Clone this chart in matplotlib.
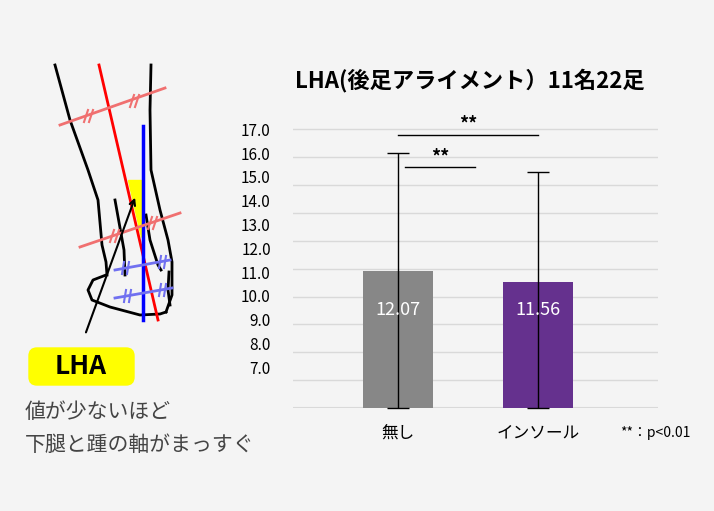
import matplotlib
matplotlib.use("Agg")
import matplotlib.pyplot as plt
from matplotlib.patches import FancyBboxPatch, Polygon

plt.rcParams["font.family"] = ["Noto Sans CJK JP"]

categories = ["無し", "インソール"]
means = [11.05, 10.6]
err_top = [16.0, 15.2]
value_labels = ["12.07", "11.56"]
tick_labels = [17.0, 16.0, 15.0, 14.0, 13.0, 12.0, 11.0, 10.0, 9.0, 8.0, 7.0]
colors = ["#878787", "#65318e"]
BG = "#f4f4f4"

W, H = 714, 511
fig = plt.figure(figsize=(W/100, H/100), dpi=100, facecolor=BG)

def fx(x): return x / W
def fy(y): return 1 - y / H

ax = fig.add_axes([fx(293), fy(408), fx(658-293), (408-128)/H], facecolor=BG)
ymin, ymax = 5.29, 17.05
ax.set_ylim(ymin, ymax)
ax.set_xlim(-0.75, 1.857)
x = [0, 1]
lower = [m - ymin for m in means]
upper = [t - m for t, m in zip(err_top, means)]
ax.bar(x, means, width=0.5, color=colors, zorder=2, bottom=0)
ax.errorbar(x, means, yerr=[lower, upper], fmt="none", ecolor="black",
            elinewidth=1, capsize=8, capthick=1, zorder=3, clip_on=False)
for xi, lab in zip(x, value_labels):
    ax.text(xi, 9.4, lab, ha="center", va="center", color="white", fontsize=13, zorder=4)
step = 1.1715
for k in range(11):
    ax.axhline(17.0 - k*step, color="#d9d9d9", lw=1, zorder=1)
ax.set_yticks(tick_labels)
ax.set_yticklabels([f"{t:.1f}" for t in tick_labels], fontsize=11)
ax.tick_params(axis="y", length=0, pad=16)
ax.set_xticks([])
for s in ax.spines.values():
    s.set_visible(False)
ax.axhline(ymin, color="#d9d9d9", lw=1.5, zorder=1)

ax.plot([0, 1], [16.75, 16.75], color="black", lw=1, clip_on=False)
ax.text(0.5, 16.8, "**", ha="center", va="bottom", fontsize=13, fontweight="bold")
ax.plot([0.05, 0.55], [15.4, 15.4], color="black", lw=1, clip_on=False)
ax.text(0.3, 15.45, "**", ha="center", va="bottom", fontsize=13, fontweight="bold")

for xi, c in zip([398, 538], categories):
    fig.text(fx(xi), fy(433), c, ha="center", va="center", fontsize=12)
fig.text(fx(655), fy(433), "**：p<0.01", ha="center", va="center", fontsize=10)
fig.text(fx(470), fy(80), "LHA(後足アライメント）11名22足", ha="center", va="center",
         fontsize=16, fontweight="bold")

d = fig.add_axes([0, 0, 1, 1], facecolor="none")
d.set_xlim(0, W); d.set_ylim(H, 0); d.axis("off")
d.plot([55, 70, 88, 98, 102, 106, 107], [65, 120, 170, 200, 245, 262, 275], color="black", lw=2)
d.plot([151, 150, 151, 160, 168, 172, 172, 166], [65, 110, 170, 210, 240, 262, 295, 312], color="black", lw=2)
d.plot([106, 93, 88, 92, 110, 140, 160, 166], [275, 280, 290, 300, 307, 315, 314, 312], color="black", lw=2)
d.plot([115, 124, 125], [200, 250, 275], color="black", lw=2)
d.plot([146, 150, 158, 161], [215, 240, 265, 270], color="black", lw=2)
d.plot([169, 168, 170], [272, 290, 305], color="black", lw=2)
d.add_patch(Polygon([[128, 180], [141, 180], [141, 237]], color="yellow", zorder=1))
d.plot([99, 158], [65, 320], color="red", lw=2)
d.plot([143, 143], [126, 320], color="blue", lw=2.5)
d.plot([60, 165], [125, 88], color="#f07070", lw=2)
d.plot([80, 180], [247, 213], color="#f07070", lw=2)
for (a, b) in [(86, 116), (132, 101), (112, 236), (150, 223)]:
    for o in (0, 5):
        d.plot([a+o-2, a+o+2], [b+6, b-6], color="#f07070", lw=1.5)
d.plot([115, 170], [270, 260], color="#7070f0", lw=2)
d.plot([115, 172], [298, 288], color="#7070f0", lw=2)
for (a, b) in [(123, 268), (160, 262), (125, 296), (160, 290)]:
    for o in (0, 5):
        d.plot([a+o-1, a+o+1], [b+6, b-6], color="#7070f0", lw=1.5)
d.annotate("", xy=(136, 195), xytext=(85, 335),
           arrowprops=dict(arrowstyle="->", color="black", lw=1.5))
d.add_patch(FancyBboxPatch((29, 348), 105, 37, boxstyle="round,pad=0,rounding_size=8",
                           color="#ffff00"))
d.text(81, 367, "LHA", ha="center", va="center", fontsize=19, fontweight="bold")
d.text(25, 412, "値が少ないほど", ha="left", va="center", fontsize=15, color="#444444")
d.text(25, 445, "下腿と踵の軸がまっすぐ", ha="left", va="center", fontsize=15, color="#444444")

fig.savefig("out.png", dpi=100, facecolor=BG)
